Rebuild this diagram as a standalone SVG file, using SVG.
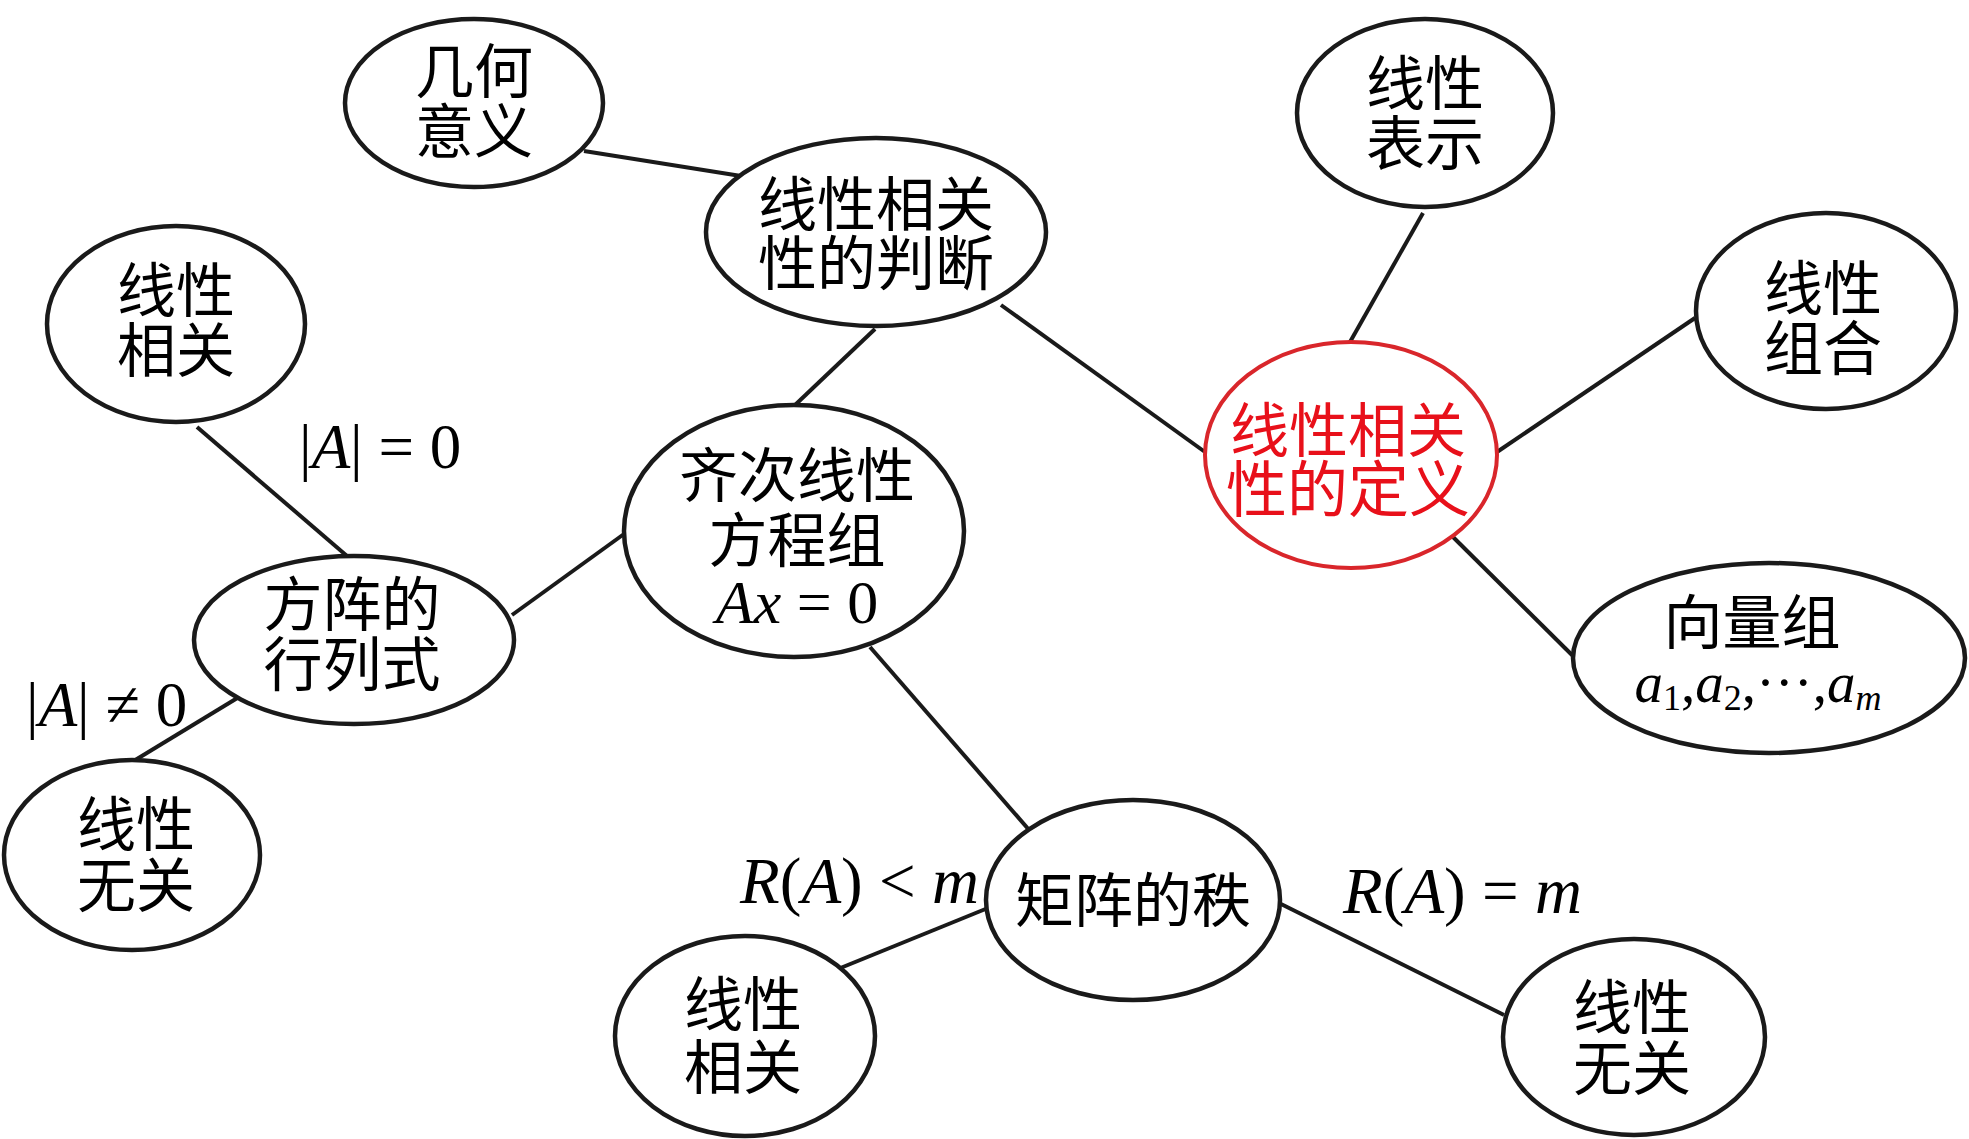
<svg xmlns="http://www.w3.org/2000/svg" width="1969" height="1139" viewBox="0 0 1969 1139">
<style>
.n{fill:#fff;stroke:#1a1a1a;stroke-width:4.5}
.r{fill:#fff;stroke:#d9262b;stroke-width:4}
.t{font-family:"Liberation Serif","Noto Sans CJK SC",serif;font-size:59px;fill:#000;text-anchor:middle}
.tr{fill:#e8101a}
.m{font-family:"Liberation Serif","Noto Sans CJK SC",serif;font-size:63px;fill:#000}
.i{font-style:italic}
.c line{stroke:#1a1a1a;stroke-width:4}
</style>
<rect width="1969" height="1139" fill="#fff"/>
<g class="c" id="connectors">
<line x1="584" y1="151" x2="741" y2="176"/>
<line x1="875" y1="329" x2="794" y2="406"/>
<line x1="1001" y1="305" x2="1205" y2="452"/>
<line x1="1423" y1="213" x2="1350" y2="342"/>
<line x1="1695" y1="318" x2="1497" y2="452"/>
<line x1="1453" y1="537" x2="1573" y2="656"/>
<line x1="197" y1="427" x2="347" y2="556"/>
<line x1="512" y1="615" x2="624" y2="534"/>
<line x1="239" y1="697" x2="132" y2="762"/>
<line x1="870" y1="647" x2="1030" y2="831"/>
<line x1="988" y1="908" x2="838" y2="969"/>
<line x1="1281" y1="904" x2="1504" y2="1015"/>
</g>
<g id="n-jihe"><ellipse class="n" cx="474" cy="103" rx="129" ry="84"/><text class="t" x="474" y="93">几何</text><text class="t" x="474" y="153">意义</text></g>
<g id="n-panduan"><ellipse class="n" cx="876" cy="232" rx="170" ry="94"/><text class="t" x="876" y="226">线性相关</text><text class="t" x="876" y="285">性的判断</text></g>
<g id="n-biaoshi"><ellipse class="n" cx="1425" cy="113" rx="128" ry="94"/><text class="t" x="1425" y="105">线性</text><text class="t" x="1425" y="165">表示</text></g>
<g id="n-xiangguan1"><ellipse class="n" cx="176" cy="324" rx="129" ry="98"/><text class="t" x="176" y="312">线性</text><text class="t" x="176" y="372">相关</text></g>
<g id="n-zuhe"><ellipse class="n" cx="1826" cy="311" rx="130" ry="98"/><text class="t" x="1823" y="310">线性</text><text class="t" x="1823" y="370">组合</text></g>
<g id="n-dingyi"><ellipse class="r" cx="1351" cy="455" rx="146" ry="113"/><text class="t tr" x="1348" y="452">线性相关</text><text class="t tr" x="1348" y="512" style="font-size:61px">性的定义</text></g>
<g id="n-qici"><ellipse class="n" cx="794" cy="531" rx="170" ry="126"/><text class="t" x="797" y="497">齐次线性</text><text class="t" x="797" y="562">方程组</text><text class="t" x="797" y="623" style="font-size:62px"><tspan class="i">Ax</tspan> = 0</text></g>
<g id="n-fangzhen"><ellipse class="n" cx="354" cy="640" rx="160" ry="84"/><text class="t" x="352" y="626">方阵的</text><text class="t" x="352" y="686">行列式</text></g>
<g id="n-xiangliang"><ellipse class="n" cx="1769" cy="658" rx="196" ry="95"/><text class="t" x="1752" y="644">向量组</text><text class="t" x="1758" y="702" style="font-size:57px"><tspan class="i">a</tspan><tspan font-size="36" dy="8">1</tspan><tspan dy="-8">,</tspan><tspan class="i">a</tspan><tspan font-size="36" dy="8">2</tspan><tspan dy="-8">,···,</tspan><tspan class="i">a</tspan><tspan class="i" font-size="36" dy="8">m</tspan></text></g>
<g id="n-wuguan1"><ellipse class="n" cx="132" cy="855" rx="128" ry="95"/><text class="t" x="136" y="846">线性</text><text class="t" x="136" y="907">无关</text></g>
<g id="n-zhi"><ellipse class="n" cx="1133" cy="900" rx="147" ry="100"/><text class="t" x="1133" y="922">矩阵的秩</text></g>
<g id="n-xiangguan2"><ellipse class="n" cx="745" cy="1036" rx="130" ry="100"/><text class="t" x="743" y="1026">线性</text><text class="t" x="743" y="1089">相关</text></g>
<g id="n-wuguan2"><ellipse class="n" cx="1634" cy="1037" rx="131" ry="98"/><text class="t" x="1632" y="1029">线性</text><text class="t" x="1632" y="1090">无关</text></g>
<g id="labels">
<text class="m" x="299" y="468">|<tspan class="i">A</tspan>| = 0</text>
<text class="m" x="26" y="726">|<tspan class="i">A</tspan>| ≠ 0</text>
<text class="m" x="740" y="903" style="font-size:65px"><tspan class="i">R</tspan>(<tspan class="i">A</tspan>) &lt; <tspan class="i">m</tspan></text>
<text class="m" x="1343" y="913" style="font-size:65px"><tspan class="i">R</tspan>(<tspan class="i">A</tspan>) = <tspan class="i">m</tspan></text>
</g>
</svg>
